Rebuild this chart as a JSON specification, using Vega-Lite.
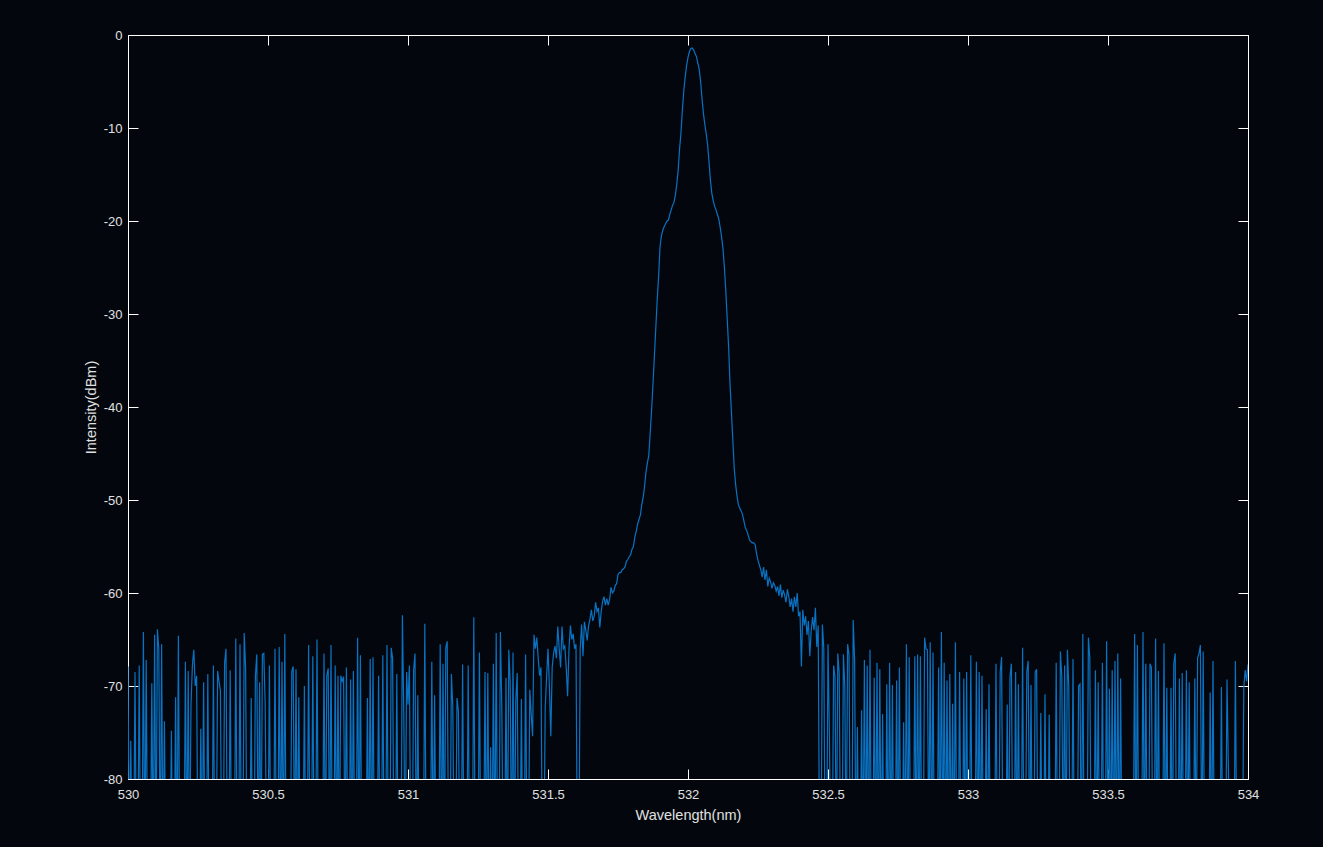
{
  "$schema": "https://vega.github.io/schema/vega-lite/v6.json",
  "width": 1120,
  "height": 744,
  "autosize": {"type": "none"},
  "padding": {"left": 128, "top": 35, "right": 75, "bottom": 68},
  "background": "#03070d",
  "config": {
    "view": {"stroke": "#ffffff", "strokeWidth": 1},
    "axis": {
      "labelFont": "Liberation Sans",
      "labelFontSize": 13,
      "labelColor": "#e0e0e0",
      "titleFont": "Liberation Sans",
      "titleFontSize": 14.5,
      "titleFontWeight": "normal",
      "titleColor": "#e0e0e0",
      "tickColor": "#ffffff",
      "tickWidth": 1,
      "tickSize": -10,
      "domain": false,
      "grid": false
    }
  },
  "data": {"values": [
{"w":530.000,"d":-67.9},{"w":530.005,"d":-90},{"w":530.010,"d":-75.9},{"w":530.015,"d":-90},{"w":530.020,"d":-90},{"w":530.025,"d":-68.5},{"w":530.030,"d":-90},{"w":530.035,"d":-90},{"w":530.040,"d":-67.8},{"w":530.045,"d":-90},
{"w":530.050,"d":-90},{"w":530.055,"d":-64.2},{"w":530.060,"d":-90},{"w":530.065,"d":-67.2},{"w":530.070,"d":-90},{"w":530.075,"d":-90},{"w":530.080,"d":-90},{"w":530.085,"d":-69.7},{"w":530.090,"d":-90},{"w":530.095,"d":-64.5},
{"w":530.100,"d":-90},{"w":530.105,"d":-63.9},{"w":530.110,"d":-66},{"w":530.115,"d":-90},{"w":530.120,"d":-65.5},{"w":530.125,"d":-90},{"w":530.130,"d":-73.8},{"w":530.135,"d":-90},{"w":530.140,"d":-90},{"w":530.145,"d":-90},
{"w":530.150,"d":-90},{"w":530.155,"d":-74.8},{"w":530.160,"d":-90},{"w":530.165,"d":-90},{"w":530.170,"d":-71.2},{"w":530.175,"d":-90},{"w":530.180,"d":-64.6},{"w":530.185,"d":-90},{"w":530.190,"d":-90},{"w":530.195,"d":-90},
{"w":530.200,"d":-90},{"w":530.205,"d":-67.4},{"w":530.210,"d":-90},{"w":530.215,"d":-68.4},{"w":530.220,"d":-90},{"w":530.225,"d":-72},{"w":530.230,"d":-67.8},{"w":530.235,"d":-66.1},{"w":530.240,"d":-70},{"w":530.245,"d":-68.9},
{"w":530.250,"d":-90},{"w":530.255,"d":-90},{"w":530.260,"d":-74.6},{"w":530.265,"d":-90},{"w":530.270,"d":-69.6},{"w":530.275,"d":-90},{"w":530.280,"d":-90},{"w":530.285,"d":-68.7},{"w":530.290,"d":-90},{"w":530.295,"d":-90},
{"w":530.300,"d":-90},{"w":530.305,"d":-67.8},{"w":530.310,"d":-90},{"w":530.315,"d":-90},{"w":530.320,"d":-68.4},{"w":530.325,"d":-69.5},{"w":530.330,"d":-70.5},{"w":530.335,"d":-90},{"w":530.340,"d":-90},{"w":530.345,"d":-67.5},
{"w":530.350,"d":-66},{"w":530.355,"d":-90},{"w":530.360,"d":-90},{"w":530.365,"d":-68.3},{"w":530.370,"d":-90},{"w":530.375,"d":-90},{"w":530.380,"d":-90},{"w":530.385,"d":-64.9},{"w":530.390,"d":-90},{"w":530.395,"d":-90},
{"w":530.400,"d":-65.5},{"w":530.405,"d":-90},{"w":530.410,"d":-90},{"w":530.415,"d":-64.3},{"w":530.420,"d":-68},{"w":530.425,"d":-90},{"w":530.430,"d":-90},{"w":530.435,"d":-90},{"w":530.440,"d":-71.3},{"w":530.445,"d":-90},
{"w":530.450,"d":-90},{"w":530.455,"d":-68.9},{"w":530.460,"d":-66.6},{"w":530.465,"d":-90},{"w":530.470,"d":-69.6},{"w":530.475,"d":-90},{"w":530.480,"d":-66.6},{"w":530.485,"d":-66.5},{"w":530.490,"d":-72},{"w":530.495,"d":-90},
{"w":530.500,"d":-90},{"w":530.505,"d":-67.8},{"w":530.510,"d":-90},{"w":530.515,"d":-90},{"w":530.520,"d":-90},{"w":530.525,"d":-66},{"w":530.530,"d":-90},{"w":530.535,"d":-90},{"w":530.540,"d":-65.8},{"w":530.545,"d":-90},
{"w":530.550,"d":-67.4},{"w":530.555,"d":-90},{"w":530.560,"d":-64.4},{"w":530.565,"d":-90},{"w":530.570,"d":-90},{"w":530.575,"d":-90},{"w":530.580,"d":-90},{"w":530.585,"d":-68.4},{"w":530.590,"d":-67.9},{"w":530.595,"d":-90},
{"w":530.600,"d":-68.2},{"w":530.605,"d":-90},{"w":530.610,"d":-71.2},{"w":530.615,"d":-90},{"w":530.620,"d":-90},{"w":530.625,"d":-90},{"w":530.630,"d":-70},{"w":530.635,"d":-90},{"w":530.640,"d":-90},{"w":530.645,"d":-65.6},
{"w":530.650,"d":-90},{"w":530.655,"d":-90},{"w":530.660,"d":-66.8},{"w":530.665,"d":-90},{"w":530.670,"d":-90},{"w":530.675,"d":-65},{"w":530.680,"d":-90},{"w":530.685,"d":-90},{"w":530.690,"d":-90},{"w":530.695,"d":-90},
{"w":530.700,"d":-66.5},{"w":530.705,"d":-90},{"w":530.710,"d":-68.9},{"w":530.715,"d":-68.1},{"w":530.720,"d":-90},{"w":530.725,"d":-65.6},{"w":530.730,"d":-90},{"w":530.735,"d":-90},{"w":530.740,"d":-67.8},{"w":530.745,"d":-90},
{"w":530.750,"d":-68.9},{"w":530.755,"d":-90},{"w":530.760,"d":-68.9},{"w":530.765,"d":-69.5},{"w":530.770,"d":-69},{"w":530.775,"d":-90},{"w":530.780,"d":-68},{"w":530.785,"d":-90},{"w":530.790,"d":-90},{"w":530.795,"d":-69.3},
{"w":530.800,"d":-90},{"w":530.805,"d":-68.4},{"w":530.810,"d":-90},{"w":530.815,"d":-90},{"w":530.820,"d":-64.8},{"w":530.825,"d":-90},{"w":530.830,"d":-66.7},{"w":530.835,"d":-90},{"w":530.840,"d":-90},{"w":530.845,"d":-90},
{"w":530.850,"d":-90},{"w":530.855,"d":-71.3},{"w":530.860,"d":-90},{"w":530.865,"d":-67.1},{"w":530.870,"d":-90},{"w":530.875,"d":-66.9},{"w":530.880,"d":-90},{"w":530.885,"d":-90},{"w":530.890,"d":-90},{"w":530.895,"d":-68.9},
{"w":530.900,"d":-90},{"w":530.905,"d":-90},{"w":530.910,"d":-66.7},{"w":530.915,"d":-90},{"w":530.920,"d":-90},{"w":530.925,"d":-65.6},{"w":530.930,"d":-90},{"w":530.935,"d":-90},{"w":530.940,"d":-65.9},{"w":530.945,"d":-67},
{"w":530.950,"d":-90},{"w":530.955,"d":-90},{"w":530.960,"d":-68.7},{"w":530.965,"d":-90},{"w":530.970,"d":-90},{"w":530.975,"d":-90},{"w":530.980,"d":-62.4},{"w":530.985,"d":-73},{"w":530.990,"d":-90},{"w":530.995,"d":-68.5},
{"w":531.000,"d":-72},{"w":531.005,"d":-67.8},{"w":531.010,"d":-90},{"w":531.015,"d":-90},{"w":531.020,"d":-68.3},{"w":531.025,"d":-66.5},{"w":531.030,"d":-90},{"w":531.035,"d":-71},{"w":531.040,"d":-90},{"w":531.045,"d":-90},
{"w":531.050,"d":-90},{"w":531.055,"d":-90},{"w":531.060,"d":-63.3},{"w":531.065,"d":-90},{"w":531.070,"d":-90},{"w":531.075,"d":-90},{"w":531.080,"d":-90},{"w":531.085,"d":-67.4},{"w":531.090,"d":-90},{"w":531.095,"d":-71},
{"w":531.100,"d":-90},{"w":531.105,"d":-90},{"w":531.110,"d":-90},{"w":531.115,"d":-65.5},{"w":531.120,"d":-90},{"w":531.125,"d":-67.6},{"w":531.130,"d":-90},{"w":531.135,"d":-65.9},{"w":531.140,"d":-65.2},{"w":531.145,"d":-90},
{"w":531.150,"d":-90},{"w":531.155,"d":-68.7},{"w":531.160,"d":-72.2},{"w":531.165,"d":-90},{"w":531.170,"d":-90},{"w":531.175,"d":-71.3},{"w":531.180,"d":-72.7},{"w":531.185,"d":-90},{"w":531.190,"d":-90},{"w":531.195,"d":-67.7},
{"w":531.200,"d":-90},{"w":531.205,"d":-90},{"w":531.210,"d":-90},{"w":531.215,"d":-67.8},{"w":531.220,"d":-90},{"w":531.225,"d":-90},{"w":531.230,"d":-90},{"w":531.235,"d":-62.6},{"w":531.240,"d":-90},{"w":531.245,"d":-90},
{"w":531.250,"d":-90},{"w":531.255,"d":-66.4},{"w":531.260,"d":-90},{"w":531.265,"d":-90},{"w":531.270,"d":-90},{"w":531.275,"d":-68.5},{"w":531.280,"d":-90},{"w":531.285,"d":-68.6},{"w":531.290,"d":-90},{"w":531.295,"d":-76.6},
{"w":531.300,"d":-90},{"w":531.305,"d":-67.6},{"w":531.310,"d":-90},{"w":531.315,"d":-64.3},{"w":531.320,"d":-90},{"w":531.325,"d":-90},{"w":531.330,"d":-64.2},{"w":531.335,"d":-72.3},{"w":531.340,"d":-90},{"w":531.345,"d":-90},
{"w":531.350,"d":-69.1},{"w":531.355,"d":-90},{"w":531.360,"d":-66.1},{"w":531.365,"d":-69.6},{"w":531.370,"d":-90},{"w":531.375,"d":-66.4},{"w":531.380,"d":-90},{"w":531.385,"d":-71.6},{"w":531.390,"d":-68.6},{"w":531.395,"d":-90},
{"w":531.400,"d":-90},{"w":531.405,"d":-71.4},{"w":531.410,"d":-90},{"w":531.415,"d":-90},{"w":531.420,"d":-66.6},{"w":531.425,"d":-90},{"w":531.430,"d":-90},{"w":531.435,"d":-70.4},{"w":531.440,"d":-73},{"w":531.445,"d":-75.4},
{"w":531.450,"d":-64.5},{"w":531.455,"d":-66},{"w":531.460,"d":-64.8},{"w":531.465,"d":-67},{"w":531.470,"d":-68.9},{"w":531.475,"d":-68},{"w":531.480,"d":-90},{"w":531.485,"d":-90},{"w":531.490,"d":-72.4},{"w":531.495,"d":-69},
{"w":531.500,"d":-66},{"w":531.505,"d":-70},{"w":531.510,"d":-75.4},{"w":531.515,"d":-68},{"w":531.520,"d":-66.5},{"w":531.525,"d":-65.7},{"w":531.530,"d":-67},{"w":531.535,"d":-63.6},{"w":531.540,"d":-66},{"w":531.545,"d":-68},
{"w":531.550,"d":-63.6},{"w":531.555,"d":-66},{"w":531.560,"d":-65.7},{"w":531.565,"d":-68},{"w":531.570,"d":-71.1},{"w":531.575,"d":-66},{"w":531.580,"d":-63.5},{"w":531.585,"d":-65},{"w":531.590,"d":-64.4},{"w":531.595,"d":-66},
{"w":531.600,"d":-65.5},{"w":531.605,"d":-90},{"w":531.610,"d":-90},{"w":531.615,"d":-66},{"w":531.620,"d":-63.4},{"w":531.625,"d":-66.8},{"w":531.630,"d":-63.1},{"w":531.635,"d":-64},{"w":531.640,"d":-65.1},{"w":531.645,"d":-63.5},
{"w":531.650,"d":-62.8},{"w":531.655,"d":-61.8},{"w":531.660,"d":-63},{"w":531.665,"d":-62.5},{"w":531.670,"d":-61},{"w":531.675,"d":-62},{"w":531.680,"d":-61.6},{"w":531.685,"d":-63.7},{"w":531.690,"d":-62},{"w":531.695,"d":-60.9},
{"w":531.700,"d":-60.4},{"w":531.705,"d":-61.3},{"w":531.710,"d":-60.6},{"w":531.715,"d":-61.3},{"w":531.720,"d":-60.7},{"w":531.725,"d":-59.4},{"w":531.730,"d":-60},{"w":531.735,"d":-59.8},{"w":531.740,"d":-59.2},{"w":531.745,"d":-59.0},
{"w":531.750,"d":-58.0},{"w":531.755,"d":-57.8},{"w":531.760,"d":-57.8},{"w":531.765,"d":-57.5},{"w":531.770,"d":-57.4},{"w":531.775,"d":-57.2},{"w":531.780,"d":-56.6},{"w":531.785,"d":-56.4},{"w":531.790,"d":-56.1},{"w":531.795,"d":-55.9},
{"w":531.800,"d":-55.3},{"w":531.805,"d":-55.0},{"w":531.810,"d":-54.0},{"w":531.815,"d":-53.4},{"w":531.820,"d":-52.6},{"w":531.825,"d":-52.1},{"w":531.830,"d":-51.6},{"w":531.835,"d":-50.5},{"w":531.840,"d":-49.7},{"w":531.845,"d":-48.5},
{"w":531.850,"d":-47.0},{"w":531.855,"d":-46.0},{"w":531.860,"d":-45.2},{"w":531.865,"d":-42.8},{"w":531.870,"d":-40.3},{"w":531.875,"d":-37.5},{"w":531.880,"d":-34.5},{"w":531.885,"d":-31.5},{"w":531.890,"d":-28.5},{"w":531.895,"d":-26.0},
{"w":531.900,"d":-22.8},{"w":531.905,"d":-21.6},{"w":531.910,"d":-21.0},{"w":531.915,"d":-20.6},{"w":531.920,"d":-20.3},{"w":531.925,"d":-20.0},{"w":531.930,"d":-19.9},{"w":531.935,"d":-19.3},{"w":531.940,"d":-18.8},{"w":531.945,"d":-18.3},
{"w":531.950,"d":-18.0},{"w":531.955,"d":-17.2},{"w":531.960,"d":-16.0},{"w":531.965,"d":-14.5},{"w":531.970,"d":-12.2},{"w":531.975,"d":-10.5},{"w":531.980,"d":-8.0},{"w":531.985,"d":-6.0},{"w":531.990,"d":-4.5},{"w":531.995,"d":-3.3},
{"w":532.000,"d":-2.4},{"w":532.005,"d":-1.8},{"w":532.010,"d":-1.45},{"w":532.015,"d":-1.4},{"w":532.020,"d":-1.6},{"w":532.025,"d":-2.0},{"w":532.030,"d":-2.3},{"w":532.035,"d":-3.0},{"w":532.040,"d":-3.7},{"w":532.045,"d":-5.0},
{"w":532.050,"d":-6.8},{"w":532.055,"d":-8.4},{"w":532.060,"d":-9.6},{"w":532.065,"d":-10.6},{"w":532.070,"d":-11.8},{"w":532.075,"d":-13.6},{"w":532.080,"d":-15.6},{"w":532.085,"d":-17.0},{"w":532.090,"d":-17.8},{"w":532.095,"d":-18.4},
{"w":532.100,"d":-18.8},{"w":532.105,"d":-19.3},{"w":532.110,"d":-19.8},{"w":532.115,"d":-20.7},{"w":532.120,"d":-21.7},{"w":532.125,"d":-23.0},{"w":532.130,"d":-25.0},{"w":532.135,"d":-27.5},{"w":532.140,"d":-30.5},{"w":532.145,"d":-33.5},
{"w":532.150,"d":-37.5},{"w":532.155,"d":-40.5},{"w":532.160,"d":-43.5},{"w":532.165,"d":-46.5},{"w":532.170,"d":-48.3},{"w":532.175,"d":-49.6},{"w":532.180,"d":-50.5},{"w":532.185,"d":-50.9},{"w":532.190,"d":-51.2},{"w":532.195,"d":-51.6},
{"w":532.200,"d":-52.3},{"w":532.205,"d":-53.0},{"w":532.210,"d":-53.3},{"w":532.215,"d":-53.8},{"w":532.220,"d":-54.3},{"w":532.225,"d":-54.5},{"w":532.230,"d":-54.6},{"w":532.235,"d":-54.6},{"w":532.240,"d":-54.8},{"w":532.245,"d":-55.8},
{"w":532.250,"d":-56.5},{"w":532.255,"d":-57.0},{"w":532.260,"d":-57.5},{"w":532.265,"d":-58.3},{"w":532.270,"d":-57.2},{"w":532.275,"d":-58.6},{"w":532.280,"d":-57.5},{"w":532.285,"d":-59.3},{"w":532.290,"d":-58.4},{"w":532.295,"d":-58.8},
{"w":532.300,"d":-59.5},{"w":532.305,"d":-58.9},{"w":532.310,"d":-59.2},{"w":532.315,"d":-59.8},{"w":532.320,"d":-59.3},{"w":532.325,"d":-60.3},{"w":532.330,"d":-59.1},{"w":532.335,"d":-60.5},{"w":532.340,"d":-59.7},{"w":532.345,"d":-60.2},
{"w":532.350,"d":-61.0},{"w":532.355,"d":-59.6},{"w":532.360,"d":-60.4},{"w":532.365,"d":-61.5},{"w":532.370,"d":-60.6},{"w":532.375,"d":-62.0},{"w":532.380,"d":-60.4},{"w":532.385,"d":-61.5},{"w":532.390,"d":-60.0},{"w":532.395,"d":-62.5},
{"w":532.400,"d":-62.0},{"w":532.405,"d":-67.9},{"w":532.410,"d":-61.8},{"w":532.415,"d":-63.5},{"w":532.420,"d":-62.5},{"w":532.425,"d":-64.5},{"w":532.430,"d":-63.0},{"w":532.435,"d":-66.8},{"w":532.440,"d":-64.0},{"w":532.445,"d":-62.6},
{"w":532.450,"d":-64.0},{"w":532.455,"d":-61.6},{"w":532.460,"d":-65.8},{"w":532.465,"d":-63.5},{"w":532.470,"d":-90},{"w":532.475,"d":-90},{"w":532.480,"d":-63.4},{"w":532.485,"d":-66},{"w":532.490,"d":-90},{"w":532.495,"d":-90},
{"w":532.500,"d":-65.5},{"w":532.505,"d":-75.1},{"w":532.510,"d":-90},{"w":532.515,"d":-90},{"w":532.520,"d":-67.8},{"w":532.525,"d":-69},{"w":532.530,"d":-90},{"w":532.535,"d":-66.5},{"w":532.540,"d":-68.6},{"w":532.545,"d":-90},
{"w":532.550,"d":-90},{"w":532.555,"d":-66.6},{"w":532.560,"d":-70},{"w":532.565,"d":-90},{"w":532.570,"d":-65.5},{"w":532.575,"d":-66.6},{"w":532.580,"d":-90},{"w":532.585,"d":-90},{"w":532.590,"d":-62.9},{"w":532.595,"d":-67.2},
{"w":532.600,"d":-90},{"w":532.605,"d":-74.4},{"w":532.610,"d":-90},{"w":532.615,"d":-90},{"w":532.620,"d":-72.6},{"w":532.625,"d":-90},{"w":532.630,"d":-67.2},{"w":532.635,"d":-90},{"w":532.640,"d":-67.8},{"w":532.645,"d":-90},
{"w":532.650,"d":-66.1},{"w":532.655,"d":-90},{"w":532.660,"d":-90},{"w":532.665,"d":-69.1},{"w":532.670,"d":-90},{"w":532.675,"d":-67.5},{"w":532.680,"d":-90},{"w":532.685,"d":-68.2},{"w":532.690,"d":-90},{"w":532.695,"d":-73},
{"w":532.700,"d":-90},{"w":532.705,"d":-90},{"w":532.710,"d":-69.8},{"w":532.715,"d":-90},{"w":532.720,"d":-67.5},{"w":532.725,"d":-90},{"w":532.730,"d":-69.9},{"w":532.735,"d":-90},{"w":532.740,"d":-90},{"w":532.745,"d":-69.4},
{"w":532.750,"d":-90},{"w":532.755,"d":-68},{"w":532.760,"d":-90},{"w":532.765,"d":-90},{"w":532.770,"d":-73.9},{"w":532.775,"d":-90},{"w":532.780,"d":-65.5},{"w":532.785,"d":-90},{"w":532.790,"d":-66.9},{"w":532.795,"d":-90},
{"w":532.800,"d":-90},{"w":532.805,"d":-90},{"w":532.810,"d":-66.8},{"w":532.815,"d":-90},{"w":532.820,"d":-66.6},{"w":532.825,"d":-90},{"w":532.830,"d":-66.8},{"w":532.835,"d":-90},{"w":532.840,"d":-90},{"w":532.845,"d":-64.8},
{"w":532.850,"d":-66},{"w":532.855,"d":-66.1},{"w":532.860,"d":-90},{"w":532.865,"d":-65.3},{"w":532.870,"d":-90},{"w":532.875,"d":-66.4},{"w":532.880,"d":-90},{"w":532.885,"d":-90},{"w":532.890,"d":-90},{"w":532.895,"d":-68},
{"w":532.900,"d":-90},{"w":532.905,"d":-64.2},{"w":532.910,"d":-90},{"w":532.915,"d":-67.5},{"w":532.920,"d":-90},{"w":532.925,"d":-69.4},{"w":532.930,"d":-90},{"w":532.935,"d":-68.7},{"w":532.940,"d":-90},{"w":532.945,"d":-71.9},
{"w":532.950,"d":-90},{"w":532.955,"d":-65.3},{"w":532.960,"d":-90},{"w":532.965,"d":-90},{"w":532.970,"d":-68.5},{"w":532.975,"d":-90},{"w":532.980,"d":-90},{"w":532.985,"d":-69.2},{"w":532.990,"d":-90},{"w":532.995,"d":-68.5},
{"w":533.000,"d":-90},{"w":533.005,"d":-90},{"w":533.010,"d":-66.7},{"w":533.015,"d":-90},{"w":533.020,"d":-90},{"w":533.025,"d":-90},{"w":533.030,"d":-67.4},{"w":533.035,"d":-90},{"w":533.040,"d":-68.5},{"w":533.045,"d":-90},
{"w":533.050,"d":-68.9},{"w":533.055,"d":-90},{"w":533.060,"d":-90},{"w":533.065,"d":-72.5},{"w":533.070,"d":-90},{"w":533.075,"d":-69.8},{"w":533.080,"d":-90},{"w":533.085,"d":-90},{"w":533.090,"d":-90},{"w":533.095,"d":-90},
{"w":533.100,"d":-67.6},{"w":533.105,"d":-90},{"w":533.110,"d":-90},{"w":533.115,"d":-68.5},{"w":533.120,"d":-66.9},{"w":533.125,"d":-90},{"w":533.130,"d":-90},{"w":533.135,"d":-90},{"w":533.140,"d":-72},{"w":533.145,"d":-90},
{"w":533.150,"d":-69},{"w":533.155,"d":-67.6},{"w":533.160,"d":-90},{"w":533.165,"d":-90},{"w":533.170,"d":-68.5},{"w":533.175,"d":-90},{"w":533.180,"d":-69.8},{"w":533.185,"d":-90},{"w":533.190,"d":-90},{"w":533.195,"d":-65.9},
{"w":533.200,"d":-90},{"w":533.205,"d":-90},{"w":533.210,"d":-68.5},{"w":533.215,"d":-67.3},{"w":533.220,"d":-90},{"w":533.225,"d":-69.9},{"w":533.230,"d":-90},{"w":533.235,"d":-90},{"w":533.240,"d":-68.5},{"w":533.245,"d":-68.2},
{"w":533.250,"d":-90},{"w":533.255,"d":-90},{"w":533.260,"d":-72.9},{"w":533.265,"d":-90},{"w":533.270,"d":-90},{"w":533.275,"d":-70.9},{"w":533.280,"d":-90},{"w":533.285,"d":-90},{"w":533.290,"d":-73.1},{"w":533.295,"d":-90},
{"w":533.300,"d":-90},{"w":533.305,"d":-90},{"w":533.310,"d":-90},{"w":533.315,"d":-67.5},{"w":533.320,"d":-90},{"w":533.325,"d":-90},{"w":533.330,"d":-66.3},{"w":533.335,"d":-69},{"w":533.340,"d":-90},{"w":533.345,"d":-67.8},
{"w":533.350,"d":-90},{"w":533.355,"d":-66.1},{"w":533.360,"d":-70.1},{"w":533.365,"d":-90},{"w":533.370,"d":-90},{"w":533.375,"d":-67.1},{"w":533.380,"d":-90},{"w":533.385,"d":-90},{"w":533.390,"d":-90},{"w":533.395,"d":-70},
{"w":533.400,"d":-69.8},{"w":533.405,"d":-90},{"w":533.410,"d":-64.4},{"w":533.415,"d":-90},{"w":533.420,"d":-90},{"w":533.425,"d":-90},{"w":533.430,"d":-64.8},{"w":533.435,"d":-67},{"w":533.440,"d":-90},{"w":533.445,"d":-90},
{"w":533.450,"d":-90},{"w":533.455,"d":-68.3},{"w":533.460,"d":-90},{"w":533.465,"d":-69.6},{"w":533.470,"d":-90},{"w":533.475,"d":-90},{"w":533.480,"d":-67.5},{"w":533.485,"d":-90},{"w":533.490,"d":-90},{"w":533.495,"d":-65.2},
{"w":533.500,"d":-90},{"w":533.505,"d":-70.3},{"w":533.510,"d":-90},{"w":533.515,"d":-68.3},{"w":533.520,"d":-90},{"w":533.525,"d":-67.3},{"w":533.530,"d":-90},{"w":533.535,"d":-66.5},{"w":533.540,"d":-90},{"w":533.545,"d":-69.2},
{"w":533.550,"d":-90},{"w":533.555,"d":-90},{"w":533.560,"d":-90},{"w":533.565,"d":-90},{"w":533.570,"d":-90},{"w":533.575,"d":-90},{"w":533.580,"d":-90},{"w":533.585,"d":-90},{"w":533.590,"d":-90},{"w":533.595,"d":-64.4},
{"w":533.600,"d":-90},{"w":533.605,"d":-65.6},{"w":533.610,"d":-90},{"w":533.615,"d":-90},{"w":533.620,"d":-90},{"w":533.625,"d":-64.2},{"w":533.630,"d":-90},{"w":533.635,"d":-67.6},{"w":533.640,"d":-90},{"w":533.645,"d":-90},
{"w":533.650,"d":-67.6},{"w":533.655,"d":-68},{"w":533.660,"d":-90},{"w":533.665,"d":-90},{"w":533.670,"d":-64.9},{"w":533.675,"d":-90},{"w":533.680,"d":-68.4},{"w":533.685,"d":-90},{"w":533.690,"d":-90},{"w":533.695,"d":-90},
{"w":533.700,"d":-65.4},{"w":533.705,"d":-90},{"w":533.710,"d":-70.2},{"w":533.715,"d":-90},{"w":533.720,"d":-90},{"w":533.725,"d":-70.2},{"w":533.730,"d":-90},{"w":533.735,"d":-67.6},{"w":533.740,"d":-66.5},{"w":533.745,"d":-90},
{"w":533.750,"d":-90},{"w":533.755,"d":-69.2},{"w":533.760,"d":-90},{"w":533.765,"d":-68.6},{"w":533.770,"d":-90},{"w":533.775,"d":-90},{"w":533.780,"d":-68.3},{"w":533.785,"d":-90},{"w":533.790,"d":-69.6},{"w":533.795,"d":-90},
{"w":533.800,"d":-90},{"w":533.805,"d":-90},{"w":533.810,"d":-69.2},{"w":533.815,"d":-90},{"w":533.820,"d":-67},{"w":533.825,"d":-66.5},{"w":533.830,"d":-65.6},{"w":533.835,"d":-90},{"w":533.840,"d":-66.3},{"w":533.845,"d":-90},
{"w":533.850,"d":-90},{"w":533.855,"d":-90},{"w":533.860,"d":-90},{"w":533.865,"d":-70.7},{"w":533.870,"d":-90},{"w":533.875,"d":-67.3},{"w":533.880,"d":-90},{"w":533.885,"d":-90},{"w":533.890,"d":-90},{"w":533.895,"d":-90},
{"w":533.900,"d":-90},{"w":533.905,"d":-70.1},{"w":533.910,"d":-90},{"w":533.915,"d":-90},{"w":533.920,"d":-90},{"w":533.925,"d":-69.3},{"w":533.930,"d":-78.8},{"w":533.935,"d":-90},{"w":533.940,"d":-90},{"w":533.945,"d":-90},
{"w":533.950,"d":-90},{"w":533.955,"d":-67.3},{"w":533.960,"d":-90},{"w":533.965,"d":-90},{"w":533.970,"d":-90},{"w":533.975,"d":-90},{"w":533.980,"d":-90},{"w":533.985,"d":-70.1},{"w":533.990,"d":-68.3},{"w":533.995,"d":-69.5},
{"w":534.000,"d":-67.7}
  ]},
  "resolve": {"axis": {"x": "independent", "y": "independent"}},
  "layer": [
    {
      "mark": {"type": "line", "color": "#0a72c2", "strokeWidth": 1.2, "clip": true},
      "encoding": {
        "x": {"field": "w", "type": "quantitative",
          "scale": {"domain": [530, 534], "nice": false, "zero": false},
          "axis": {"orient": "bottom", "title": "Wavelength(nm)", "values": [530, 530.5, 531, 531.5, 532, 532.5, 533, 533.5, 534],
            "labelExpr": "'' + datum.value", "labelPadding": 19, "labelFlush": false, "labelOverlap": false,
            "titleY": 40, "titleBaseline": "alphabetic"}},
        "y": {"field": "d", "type": "quantitative",
          "scale": {"domain": [-80, 0], "nice": false, "zero": false},
          "axis": {"orient": "left", "title": "Intensity(dBm)", "values": [0, -10, -20, -30, -40, -50, -60, -70, -80],
            "labelExpr": "'' + datum.value", "labelPadding": 16, "labelFlush": false, "labelOverlap": false,
            "titleX": -33, "titleBaseline": "alphabetic", "titleAngle": -90}}
      }
    },
    {
      "mark": {"type": "line", "strokeOpacity": 0, "clip": true},
      "encoding": {
        "x": {"field": "w", "type": "quantitative",
          "axis": {"orient": "top", "title": null, "labels": false, "values": [530, 530.5, 531, 531.5, 532, 532.5, 533, 533.5, 534]}},
        "y": {"field": "d", "type": "quantitative",
          "axis": {"orient": "right", "title": null, "labels": false, "values": [0, -10, -20, -30, -40, -50, -60, -70, -80]}}
      }
    }
  ]
}
